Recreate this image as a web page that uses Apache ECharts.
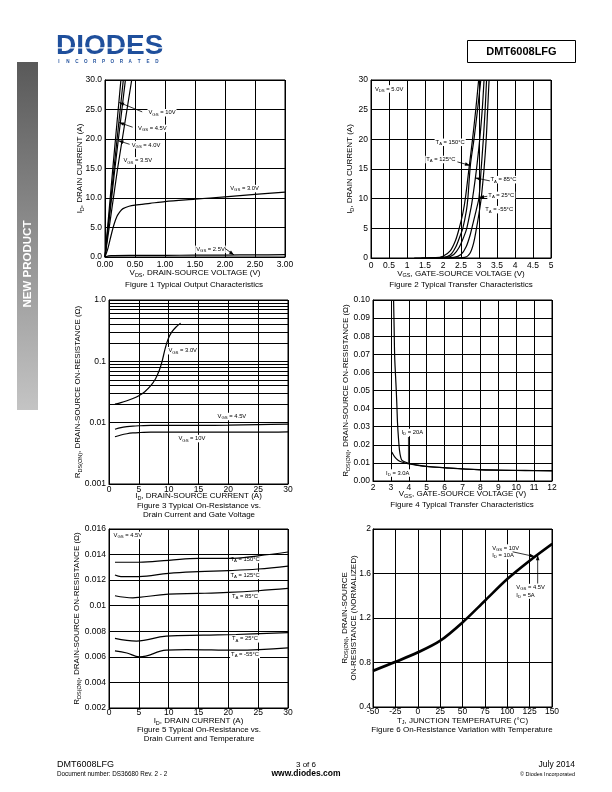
<!DOCTYPE html>
<html><head><meta charset="utf-8">
<script src="https://cdn.jsdelivr.net/npm/echarts@6/dist/echarts.min.js"></script>
<style>html,body{margin:0;padding:0;background:#fff;}#c{width:612px;height:792px;}</style>
</head><body><div id="c"></div>
<script>
const FONT = "'Liberation Sans', Arial, Helvetica, sans-serif";

// ---------- Figure 1: Typical Output Characteristics (VDS V, ID A) ----------
const f1_vgs10 = [[0,0],[0.13,15],[0.265,30]];
const f1_vgs45 = [[0,0],[0.15,15],[0.305,30]];
const f1_vgs40 = [[0,0],[0.165,15],[0.34,30]];
const f1_vgs35 = [[0,0],[0.21,15],[0.445,30]];
const f1_vgs30 = [[0,0],[0.05,1.5],[0.1,3.6],[0.15,5.5],[0.2,6.9],[0.25,7.7],[0.3,8.2],[0.4,8.6],[0.5,8.8],[0.75,9.1],[1.0,9.4],[1.5,9.8],[2.0,10.2],[2.5,10.6],[3.0,11.0]];
const f1_vgs25 = [[0,0],[0.1,0.22],[0.5,0.27],[1.0,0.29],[1.5,0.31],[2.0,0.33],[2.5,0.36],[3.0,0.4]];

// ---------- Figure 2: Typical Transfer Characteristics (VGS V, ID A) ----------
const f2_t150 = [[1.2,0],[1.8,0.05],[2.0,0.3],[2.2,1.2],[2.35,3.0],[2.45,5.0],[2.55,7.5],[2.62,10],[2.72,15],[2.82,20],[2.91,25],[2.99,30]];
const f2_t125 = [[1.4,0],[2.0,0.1],[2.2,0.5],[2.35,1.8],[2.48,3.8],[2.55,5.0],[2.65,8.0],[2.69,10],[2.76,15.6],[2.86,20],[2.96,25],[3.05,30]];
const f2_t85  = [[1.6,0],[2.1,0.1],[2.3,0.6],[2.45,1.8],[2.58,3.6],[2.66,5],[2.78,8.5],[2.82,10],[2.90,13.5],[2.95,16],[3.02,20],[3.09,25],[3.14,30]];
const f2_t25  = [[1.8,0],[2.3,0.1],[2.5,0.6],[2.65,2.0],[2.76,4.0],[2.8,5],[2.92,8],[3.0,10.2],[3.06,15],[3.12,20],[3.17,25],[3.21,30]];
const f2_tm55 = [[2.2,0],[2.6,0.1],[2.75,0.8],[2.85,2.5],[2.93,5],[3.0,7.5],[3.06,10],[3.14,15],[3.2,20],[3.24,25],[3.28,30]];

// ---------- Figure 3: RDS(ON) vs ID and VGS (ID A, RDS ohm, log) ----------
const f3_vgs30 = [[1,0.020],[2,0.0212],[3,0.0228],[4,0.0248],[5,0.0275],[6,0.032],[7,0.040],[7.8,0.052],[8.4,0.07],[8.9,0.1],[9.4,0.16],[9.9,0.23],[10.5,0.3],[11.2,0.36],[12,0.42]];
const f3_vgs45 = [[1,0.0078],[2,0.0083],[3,0.0086],[4,0.0088],[5,0.0089],[7,0.009],[10,0.009],[15,0.009],[20,0.0091],[25,0.0093],[30,0.0095]];
const f3_vgs10 = [[1,0.0059],[2,0.0063],[3,0.0066],[4,0.0068],[5,0.0069],[7,0.007],[10,0.007],[15,0.007],[20,0.007],[25,0.007],[30,0.0071]];

// ---------- Figure 4: RDS(ON) vs VGS (VGS V, RDS ohm) ----------
const f4_id20 = [[3.15,0.100],[3.18,0.085],[3.21,0.069],[3.26,0.058],[3.30,0.050],[3.34,0.040],[3.37,0.032],[3.42,0.024],[3.48,0.017],[3.55,0.013],[3.62,0.0114],[3.8,0.0105],[4.0,0.0098],[4.5,0.0088],[5,0.0081],[6,0.0074],[7,0.0067],[8,0.0063],[9,0.006],[10,0.0059],[11,0.0058],[12,0.0057]];
const f4_id3  = [[3.05,0.016],[3.2,0.0135],[3.4,0.0115],[3.6,0.0105],[4.0,0.0094],[4.5,0.0086],[5,0.008],[6,0.0073],[7,0.0067],[8,0.0062],[9,0.006],[10,0.0058],[11,0.0057],[12,0.0056]];

// ---------- Figure 5: RDS(ON) vs ID and temperature ----------
const f5_t150 = [[1,0.0134],[5,0.0134],[10,0.01355],[15,0.0137],[20,0.0137],[25,0.0139],[30,0.0142]];
const f5_t125 = [[1,0.0124],[2,0.01228],[5,0.01228],[10,0.01253],[15,0.01266],[20,0.01274],[25,0.01287],[30,0.0131]];
const f5_t85  = [[1,0.01078],[4,0.01062],[5,0.01065],[10,0.0109],[15,0.01096],[20,0.01104],[25,0.01117],[30,0.01135]];
const f5_t25  = [[1,0.00744],[4.6,0.00723],[9.6,0.00762],[15.8,0.0077],[21.3,0.00775],[30,0.0079]];
const f5_tm55 = [[1,0.00647],[3,0.0063],[5.1,0.0060],[9.6,0.00652],[13,0.00657],[21.3,0.00652],[30,0.0067]];

// ---------- Figure 6: normalized RDS(ON) vs TJ ----------
const f6_vgs10 = [[-50,0.73],[-25,0.81],[0,0.895],[25,1.0],[50,1.165],[75,1.36],[100,1.555],[125,1.72],[150,1.87]];
const f6_vgs45 = [[-50,0.72],[-25,0.80],[0,0.885],[25,0.99],[50,1.155],[75,1.35],[100,1.545],[125,1.71],[150,1.86]];

// log-axis minor grid values for figure 3
const f3_minor = [];
[0.001,0.01,0.1].forEach(d => { for (let k = 2; k <= 9; k++) f3_minor.push(+(k*d).toPrecision(2)); });

const RICH_S = {fontSize:5.5, lineHeight:5.5, verticalAlign:'bottom', fontFamily:FONT, color:'#000'};
function axis(gi, o, fmt, margin) {
  return Object.assign({
    type:'value', gridIndex:gi,
    axisLine:{show:true, onZero:false, lineStyle:{color:'#000', width:1}},
    axisTick:{show:false},
    splitLine:{show:true, lineStyle:{color:'#000', width:1}},
    axisLabel:{color:'#000', fontSize:8.5, fontFamily:FONT, margin:(margin == null ? 3 : margin), formatter:fmt},
    nameLocation:'middle',
    nameMoveOverlap:false,
    nameTextStyle:{color:'#000', fontSize:8, fontFamily:FONT, lineHeight:10, rich:{s:RICH_S}}
  }, o);
}
function ln(gi, data, o) {
  return Object.assign({type:'line', xAxisIndex:gi, yAxisIndex:gi, data:data, symbol:'none', showSymbol:false,
    lineStyle:{color:'#000', width:1.2}, smooth:false, animation:false, silent:true, z:2}, o||{});
}

const grids = [
  {left:105, top:80, width:180, height:177},
  {left:371, top:80, width:180, height:178},
  {left:109, top:300, width:179, height:184},
  {left:373, top:300, width:179, height:181},
  {left:109, top:529, width:179, height:179},
  {left:373, top:529, width:179, height:178}
].map(g => Object.assign({show:true, borderColor:'#000', borderWidth:1, backgroundColor:'transparent', containLabel:false}, g));

const xAxes = [
  axis(0, {min:0, max:3, interval:0.5, name:'V{s|DS}, DRAIN-SOURCE VOLTAGE (V)', nameGap:11}, v => v.toFixed(2), 3),
  axis(1, {min:0, max:5, interval:0.5, name:'V{s|GS}, GATE-SOURCE VOLTAGE (V)', nameGap:10.5}, undefined, 3),
  axis(2, {min:0, max:30, interval:5, name:'I{s|D}, DRAIN-SOURCE CURRENT (A)', nameGap:7}, undefined, 1.5),
  axis(3, {min:2, max:12, interval:1, name:'V{s|GS}, GATE-SOURCE VOLTAGE (V)', nameGap:8}, undefined, 2),
  axis(4, {min:0, max:30, interval:5, name:'I{s|D}, DRAIN CURRENT (A)', nameGap:8}, undefined, 0.5),
  axis(5, {min:-50, max:150, interval:25, name:'T{s|J}, JUNCTION TEMPERATURE (°C)', nameGap:8.5}, undefined, 0.5)
];
const yAxes = [
  axis(0, {min:0, max:30, interval:5, name:'I{s|D}, DRAIN CURRENT (A)', nameGap:20, nameRotate:90}, v => v.toFixed(1)),
  axis(1, {min:0, max:30, interval:5, name:'I{s|D}, DRAIN CURRENT (A)', nameGap:16, nameRotate:90}),
  axis(2, {type:'log', logBase:10, min:0.001, max:1, name:'R{s|DS(ON)}, DRAIN-SOURCE ON-RESISTANCE (Ω)', nameGap:26, nameRotate:90},
       v => v >= 0.999 ? '1.0' : String(parseFloat(v.toPrecision(1)))),
  axis(3, {min:0, max:0.1, interval:0.01, name:'R{s|DS(ON)}, DRAIN-SOURCE ON-RESISTANCE (Ω)', nameGap:22, nameRotate:90}, v => v.toFixed(2)),
  axis(4, {min:0.002, max:0.016, interval:0.002, name:'R{s|DS(ON)}, DRAIN-SOURCE ON-RESISTANCE (Ω)', nameGap:27, nameRotate:90},
       v => String(parseFloat(v.toFixed(3)))),
  axis(5, {min:0.4, max:2, interval:0.4, name:'R{s|DS(ON)}, DRAIN-SOURCE\nON-RESISTANCE (NORMALIZED)', nameGap:15, nameRotate:90,
       nameTextStyle:{color:'#000', fontSize:8, fontFamily:FONT, lineHeight:9, rich:{s:RICH_S}}},
       v => String(parseFloat(v.toFixed(1))), 2)
];

const series = [
  ln(0, f1_vgs10), ln(0, f1_vgs45), ln(0, f1_vgs40), ln(0, f1_vgs35),
  ln(0, f1_vgs30, {smooth:0.3}), ln(0, f1_vgs25, {smooth:0.3}),
  ln(1, f2_t150, {smooth:0.3}), ln(1, f2_t125, {smooth:0.3}), ln(1, f2_t85, {smooth:0.3}),
  ln(1, f2_t25, {smooth:0.3}), ln(1, f2_tm55, {smooth:0.3}),
  ln(2, f3_vgs30, {smooth:0.3, markLine:{silent:true, symbol:['none','none'], label:{show:false}, animation:false,
      lineStyle:{color:'#000', width:1, type:'solid'}, emphasis:{disabled:true}, data:f3_minor.map(v => ({yAxis:v}))}}),
  ln(2, f3_vgs45, {smooth:0.3}), ln(2, f3_vgs10, {smooth:0.3}),
  ln(3, f4_id20, {smooth:0.3}), ln(3, f4_id3, {smooth:0.3}),
  ln(4, f5_t150, {smooth:0.4}), ln(4, f5_t125, {smooth:0.4}), ln(4, f5_t85, {smooth:0.4}),
  ln(4, f5_t25, {smooth:0.4}), ln(4, f5_tm55, {smooth:0.4}),
  ln(5, f6_vgs10, {smooth:0.3, lineStyle:{color:'#000', width:1.8}}),
  ln(5, f6_vgs45, {smooth:0.3, lineStyle:{color:'#000', width:1.8}})
];

const chart = echarts.init(document.getElementById('c'), null, {renderer:'canvas', width:612, height:792});
chart.setOption({animation:false, backgroundColor:'#fff', grid:grids, xAxis:xAxes, yAxis:yAxes, series:series});

// ---------- annotation labels (data coordinates) ----------
const annotations = [
  {g:0, t:'V{s|GS} = 10V', at:[0.95,24.45], from:[0.62,24.6], to:[0.235,26.2]},
  {g:0, t:'V{s|GS} = 4.5V', at:[0.79,21.8], from:[0.46,22.0], to:[0.235,22.8]},
  {g:0, t:'V{s|GS} = 4.0V', at:[0.683,19.0], from:[0.41,19.1], to:[0.225,19.7]},
  {g:0, t:'V{s|GS} = 3.5V', at:[0.545,16.3]},
  {g:0, t:'V{s|GS} = 3.0V', at:[2.325,11.6]},
  {g:0, t:'V{s|GS} = 2.5V', at:[1.758,1.3], from:[2.0,1.45], to:[2.15,0.36]},
  {g:1, t:'V{s|DS} = 5.0V', at:[0.08,28.5], align:'left'},
  {g:1, t:'T{s|A} = 150°C', at:[2.2,19.5]},
  {g:1, t:'T{s|A} = 125°C', at:[1.94,16.6], from:[2.40,16.2], to:[2.75,15.6]},
  {g:1, t:'T{s|A} = 85°C', at:[3.68,13.2], from:[3.30,13.0], to:[2.90,13.5]},
  {g:1, t:'T{s|A} = 25°C', at:[3.62,10.56], from:[3.23,10.4], to:[3.0,10.2]},
  {g:1, t:'T{s|A} = -55°C', at:[3.56,8.15]},
  {g:2, t:'V{s|GS} = 3.0V', at:[12.35,0.149]},
  {g:2, t:'V{s|GS} = 4.5V', at:[20.6,0.0126]},
  {g:2, t:'V{s|GS} = 10V', at:[13.9,0.0055]},
  {g:3, t:'I{s|D} = 20A', at:[4.19,0.0268], from:[3.98,0.0243], to:[3.98,0.0100], head:false},
  {g:3, t:'I{s|D} = 3.0A', at:[3.38,0.0044]},
  {g:4, t:'V{s|GS} = 4.5V', at:[0.6,0.0155], align:'left'},
  {g:4, t:'T{s|A} = 150°C', at:[22.8,0.01362]},
  {g:4, t:'T{s|A} = 125°C', at:[22.8,0.01237]},
  {g:4, t:'T{s|A} = 85°C', at:[22.8,0.01075]},
  {g:4, t:'T{s|A} = 25°C', at:[22.8,0.00741]},
  {g:4, t:'T{s|A} = -55°C', at:[22.8,0.00618]},
  {g:5, t:'V{s|GS} = 10V\nI{s|D} = 10A', at:[82,1.795], align:'left', from:[106,1.795], to:[130.6,1.752]},
  {g:5, t:'V{s|GS} = 4.5V\nI{s|D} = 5A', at:[109,1.44], align:'left', from:[134,1.51], to:[134,1.765]}
];

const ANN_RICH = {s:{fontSize:4.3, lineHeight:4.3, verticalAlign:'bottom', fontFamily:FONT, fill:'#000'}};
function txt(x, y, text, size, o) {
  return {type:'text', x:x, y:y, z:60, silent:true,
    style:Object.assign({text:text, fill:'#000', fontSize:size, fontFamily:FONT, align:'center', verticalAlign:'middle'}, o||{})};
}
function arrowEls(p1, p2, head) {
  const els = [{type:'line', z:70, silent:true, shape:{x1:p1[0], y1:p1[1], x2:p2[0], y2:p2[1]}, style:{stroke:'#000', lineWidth:0.8}}];
  if (head !== false) {
    const dx = p2[0]-p1[0], dy = p2[1]-p1[1], L = Math.hypot(dx, dy), ux = dx/L, uy = dy/L;
    const len = 5, w = 1.8, bx = p2[0]-ux*len, by = p2[1]-uy*len;
    els.push({type:'polygon', z:70, silent:true, shape:{points:[[p2[0],p2[1]],[bx-uy*w,by+ux*w],[bx+uy*w,by-ux*w]]}, style:{fill:'#000'}});
  }
  return els;
}

const els = [];
// sidebar
els.push({type:'rect', z:5, silent:true, shape:{x:17, y:62, width:21, height:348},
  style:{fill:new echarts.graphic.LinearGradient(0,0,0,1,[{offset:0,color:'#595959'},{offset:1,color:'#c4c4c4'}])}});
els.push({type:'text', z:6, silent:true, x:28, y:264, rotation:Math.PI/2,
  style:{text:'NEW PRODUCT', fill:'#fff', fontSize:11.5, fontWeight:'bold', fontFamily:FONT, align:'center', verticalAlign:'middle'}});
// logo
els.push({type:'text', z:6, silent:true, x:56, y:46, style:{text:'DIODES', fill:'#1f4f9c', fontSize:28, fontWeight:'bold', fontFamily:FONT, align:'left', verticalAlign:'middle'}});
els.push({type:'rect', z:7, silent:true, shape:{x:55, y:47.2, width:112, height:1.3}, style:{fill:'#fff'}});
'INCORPORATED'.split('').forEach((ch, i) => {
  els.push({type:'text', z:6, silent:true, x:59 + i*8.9, y:61.5, style:{text:ch, fill:'#1f4f9c', fontSize:4.6, fontWeight:'bold', fontFamily:FONT, align:'center', verticalAlign:'middle'}});
});
// part number box
els.push({type:'rect', z:6, silent:true, shape:{x:467.5, y:40.5, width:108, height:22}, style:{fill:'none', stroke:'#000', lineWidth:1}});
els.push(txt(521.5, 51.5, 'DMT6008LFG', 11, {fontWeight:'bold'}));
// captions
els.push(txt(194, 284.5, 'Figure 1 Typical Output Characteristics', 8));
els.push(txt(461, 284.5, 'Figure 2 Typical Transfer Characteristics', 8));
els.push(txt(199, 506, 'Figure 3 Typical On-Resistance vs.', 8));
els.push(txt(199, 515, 'Drain Current and Gate Voltage', 8));
els.push(txt(462, 505, 'Figure 4 Typical Transfer Characteristics', 8));
els.push(txt(199, 730, 'Figure 5 Typical On-Resistance vs.', 8));
els.push(txt(199, 739, 'Drain Current and Temperature', 8));
els.push(txt(462, 730, 'Figure 6 On-Resistance Variation with Temperature', 8));
// footer
els.push(txt(57, 765, 'DMT6008LFG', 9, {align:'left'}));
els.push(txt(57, 774, 'Document number: DS36680 Rev. 2 - 2', 6.3, {align:'left'}));
els.push(txt(306, 765, '3 of 6', 8));
els.push(txt(306, 774, 'www.diodes.com', 8.5, {fontWeight:'bold'}));
els.push(txt(575, 765, 'July 2014', 8.5, {align:'right'}));
els.push(txt(575, 774, '© Diodes Incorporated', 5.5, {align:'right'}));

// annotation labels + arrows
annotations.forEach(a => {
  const p = chart.convertToPixel({gridIndex:a.g}, a.at);
  els.push({type:'text', z:1, silent:true, x:p[0], y:p[1],
    style:{text:a.t, fill:'#000', fontSize:5.8, lineHeight:7.5, fontFamily:FONT, align:a.align || 'center', verticalAlign:'middle',
      backgroundColor:'#fff', padding:[0,1], rich:ANN_RICH}});
  if (a.to) {
    const p1 = chart.convertToPixel({gridIndex:a.g}, a.from);
    const p2 = chart.convertToPixel({gridIndex:a.g}, a.to);
    arrowEls(p1, p2, a.head).forEach(e => els.push(e));
  }
});
chart.setOption({graphic:{elements:els}});
</script></body></html>
